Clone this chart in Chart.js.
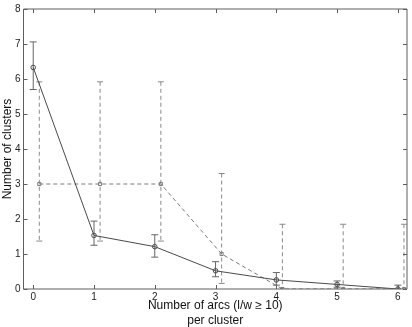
<!DOCTYPE html>
<html>
<head>
<meta charset="utf-8">
<script src="https://cdn.jsdelivr.net/npm/chart.js@4"></script>
<style>
  body { margin: 0; background: #fff; }
</style>
</head>
<body>
<canvas id="chart" width="412" height="327"></canvas>
<script>
// number of arcs per cluster
const arcs = [0, 1, 2, 3, 4, 5, 6];
// solid series (circles)
const solidMean = [6.33, 1.53, 1.21, 0.52, 0.26, 0.13, 0];
const solidUpper = [7.06, 1.94, 1.55, 0.78, 0.47, 0.23, 0.11];
const solidLower = [5.70, 1.25, 0.91, 0.35, 0.11, 0.05, -0.11];
// dashed series (squares), drawn shifted by 0.1
const dashedX = [0.1, 1.1, 2.1, 3.1, 4.1, 5.1, 6.1];
const dashedMean = [3, 3, 3, 1, 0, 0, 0];
const dashedUpper = [5.92, 5.92, 5.92, 3.3, 1.85, 1.85, 1.85];
const dashedLower = [1.37, 1.37, 1.37, 0.16, -1.85, -1.85, -1.85];
const xTicks = [0, 1, 2, 3, 4, 5, 6];
const yTicks = [0, 1, 2, 3, 4, 5, 6, 7, 8];

const FONT = '"Liberation Sans", Arial, Helvetica, sans-serif';
const AXIS = '#5e5e5e';

const errorBars = {
  id: 'errorBars',
  beforeDatasetsDraw(chart) {
    const { ctx, chartArea, scales: { x, y } } = chart;
    ctx.save();
    ctx.beginPath();
    ctx.rect(chartArea.left, chartArea.top, chartArea.width, chartArea.height);
    ctx.clip();
    const sets = [
      { xs: arcs, hi: solidUpper, lo: solidLower, color: '#666', dash: [], cap: 3.5 },
      { xs: dashedX, hi: dashedUpper, lo: dashedLower, color: '#8a8a8a', dash: [4, 3], cap: 3 }
    ];
    sets.forEach(s => {
      ctx.strokeStyle = s.color;
      ctx.lineWidth = 1;
      s.xs.forEach((v, i) => {
        const px = x.getPixelForValue(v);
        const top = y.getPixelForValue(s.hi[i]);
        const bot = y.getPixelForValue(s.lo[i]);
        ctx.setLineDash(s.dash);
        ctx.beginPath();
        ctx.moveTo(px, top);
        ctx.lineTo(px, bot);
        ctx.stroke();
        ctx.setLineDash([]);
        ctx.beginPath();
        ctx.moveTo(px - s.cap, top);
        ctx.lineTo(px + s.cap, top);
        ctx.moveTo(px - s.cap, bot);
        ctx.lineTo(px + s.cap, bot);
        ctx.stroke();
      });
    });
    ctx.restore();
  }
};

const boxTicks = {
  id: 'boxTicks',
  afterDraw(chart) {
    const { ctx, chartArea: a, scales: { x, y } } = chart;
    ctx.save();
    ctx.strokeStyle = AXIS;
    ctx.lineWidth = 1;
    ctx.beginPath();
    ctx.rect(a.left, a.top, a.right - a.left, a.bottom - a.top);
    ctx.stroke();
    ctx.beginPath();
    xTicks.forEach(v => {
      const px = Math.round(x.getPixelForValue(v)) + 0.5;
      ctx.moveTo(px, a.bottom); ctx.lineTo(px, a.bottom - 4);
      ctx.moveTo(px, a.top); ctx.lineTo(px, a.top + 4);
    });
    yTicks.forEach(v => {
      const py = Math.round(y.getPixelForValue(v)) + 0.5;
      ctx.moveTo(a.left, py); ctx.lineTo(a.left + 4, py);
      ctx.moveTo(a.right, py); ctx.lineTo(a.right - 4, py);
    });
    ctx.stroke();
    ctx.restore();
  }
};

new Chart(document.getElementById('chart'), {
  type: 'line',
  data: {
    datasets: [
      {
        data: arcs.map((v, i) => ({ x: v, y: solidMean[i] })),
        borderColor: '#4a4a4a',
        borderWidth: 1,
        pointStyle: 'circle',
        pointRadius: 2.3,
        pointBorderColor: '#4a4a4a',
        pointBackgroundColor: 'rgba(0,0,0,0)',
        pointBorderWidth: 1,
        tension: 0
      },
      {
        data: dashedX.map((v, i) => ({ x: v, y: dashedMean[i] })),
        borderColor: '#7a7a7a',
        borderWidth: 1,
        borderDash: [4, 3],
        pointStyle: 'rect',
        pointRadius: 2.2,
        pointBorderColor: '#7a7a7a',
        pointBackgroundColor: 'rgba(0,0,0,0)',
        pointBorderWidth: 1,
        tension: 0
      }
    ]
  },
  options: {
    responsive: false,
    animation: false,
    layout: { padding: { top: 9, right: 3.5, left: 0, bottom: 0 } },
    plugins: { legend: { display: false }, tooltip: { enabled: false } },
    scales: {
      x: {
        type: 'linear',
        min: -0.16,
        max: 6.15,
        afterBuildTicks: s => { s.ticks = xTicks.map(v => ({ value: v })); },
        afterFit: s => { s.height = 38; },
        grid: { display: false, drawTicks: false },
        border: { display: false },
        ticks: { padding: 2, color: '#222', font: { family: FONT, size: 10 } },
        title: {
          display: true,
          text: ['Number of arcs (l/w \u2265 10)', 'per cluster'],
          color: '#111',
          font: { family: FONT, size: 12, lineHeight: 1.25 },
          padding: { top: 0, bottom: -1 }
        }
      },
      y: {
        min: 0,
        max: 8,
        afterBuildTicks: s => { s.ticks = yTicks.map(v => ({ value: v })); },
        afterFit: s => { s.width = 23.5; },
        grid: { display: false, drawTicks: false },
        border: { display: false },
        ticks: { padding: 3, color: '#222', font: { family: FONT, size: 10 } },
        title: {
          display: true,
          text: 'Number of clusters',
          color: '#111',
          font: { family: FONT, size: 12, lineHeight: 1.25 },
          padding: { top: 0.5, bottom: 0 }
        }
      }
    }
  },
  plugins: [errorBars, boxTicks]
});
</script>
</body>
</html>
